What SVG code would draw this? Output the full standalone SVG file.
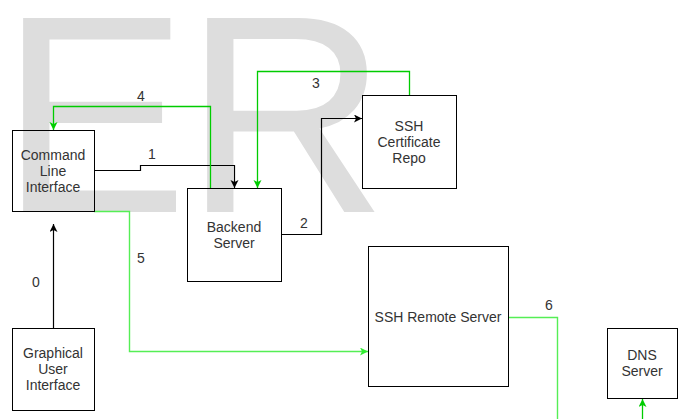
<svg xmlns="http://www.w3.org/2000/svg" width="683" height="419" viewBox="0 0 683 419">
<defs>
<style>
.bg{font-family:"Liberation Sans",Arial,sans-serif;font-size:282px;fill:#dddddd}
.box{fill:none;stroke:#000;stroke-width:1}
.t{font-family:"Liberation Sans",Arial,sans-serif;font-size:14px;fill:#333;text-anchor:middle}
.k{fill:none;stroke:#000;stroke-width:1.2}
.g{fill:none;stroke:#00cc00;stroke-width:1.3}
.lg{fill:none;stroke:#55ee55;stroke-width:1.4}
</style>
<marker id="ak" markerUnits="userSpaceOnUse" markerWidth="10" markerHeight="10" refX="8" refY="4" orient="auto" viewBox="0 0 10 10"><path d="M0,0 L8,4 L0,8 L2,4 Z" fill="#000"/></marker>
<marker id="ag" markerUnits="userSpaceOnUse" markerWidth="10" markerHeight="10" refX="8" refY="4" orient="auto" viewBox="0 0 10 10"><path d="M0,0 L8,4 L0,8 L2,4 Z" fill="#00cc00"/></marker>
<marker id="alg" markerUnits="userSpaceOnUse" markerWidth="10" markerHeight="10" refX="8" refY="4" orient="auto" viewBox="0 0 10 10"><path d="M0,0 L8,4 L0,8 L2,4 Z" fill="#33ee33"/></marker>
</defs>
<text class="bg" x="0" y="212">E</text>
<text class="bg" x="184" y="212">R</text>
<g id="connectors">
<path class="k" d="M53.5,328 L53.5,224" marker-end="url(#ak)"/>
<path class="k" d="M94,170.5 L140.5,170.5 L140.5,165.5 L234.5,165.5 L234.5,188" marker-end="url(#ak)"/>
<path class="k" d="M281,234.5 L321.5,234.5 L321.5,118.5 L362,118.5" marker-end="url(#ak)"/>
<path class="g" stroke="#00cc00" d="M409.5,95 L409.5,71.5 L257.5,71.5 L257.5,188" marker-end="url(#ag)"/>
<path class="g" d="M210.5,188 L210.5,106.5 L53.5,106.5 L53.5,130" marker-end="url(#ag)"/>
<path class="lg" d="M94,211.5 L129.5,211.5 L129.5,351.5 L368,351.5" marker-end="url(#alg)"/>
<path class="lg" d="M508,317.5 L557.5,317.5 L557.5,419"/>
<path class="g" d="M642.5,419 L642.5,399" marker-end="url(#ag)"/>
<text class="t" x="36" y="287">0</text>
<text class="t" x="152" y="159">1</text>
<text class="t" x="304" y="228">2</text>
<text class="t" x="316" y="88">3</text>
<text class="t" x="141" y="101">4</text>
<text class="t" x="141" y="263">5</text>
<text class="t" x="549" y="310">6</text>
</g>
<g id="cli">
<rect class="box" x="12.5" y="130.5" width="82" height="81"/>
<text class="t" x="53" y="160">Command</text>
<text class="t" x="53" y="176">Line</text>
<text class="t" x="53" y="192">Interface</text>
</g>
<g id="backend">
<rect class="box" x="187.5" y="188.5" width="94" height="93"/>
<text class="t" x="234" y="232">Backend</text>
<text class="t" x="234" y="248">Server</text>
</g>
<g id="sshcert">
<rect class="box" x="362.5" y="95.5" width="94" height="93"/>
<text class="t" x="409" y="131">SSH</text>
<text class="t" x="409" y="147">Certificate</text>
<text class="t" x="409" y="163">Repo</text>
</g>
<g id="gui">
<rect class="box" x="12.5" y="328.5" width="82" height="82"/>
<text class="t" x="53" y="358">Graphical</text>
<text class="t" x="53" y="374">User</text>
<text class="t" x="53" y="390">Interface</text>
</g>
<g id="sshremote">
<rect class="box" x="368.5" y="246.5" width="140" height="140"/>
<text class="t" x="438" y="322">SSH Remote Server</text>
</g>
<g id="dns">
<rect class="box" x="607.5" y="328.5" width="70" height="70"/>
<text class="t" x="642" y="360">DNS</text>
<text class="t" x="642" y="376">Server</text>
</g>
</svg>
